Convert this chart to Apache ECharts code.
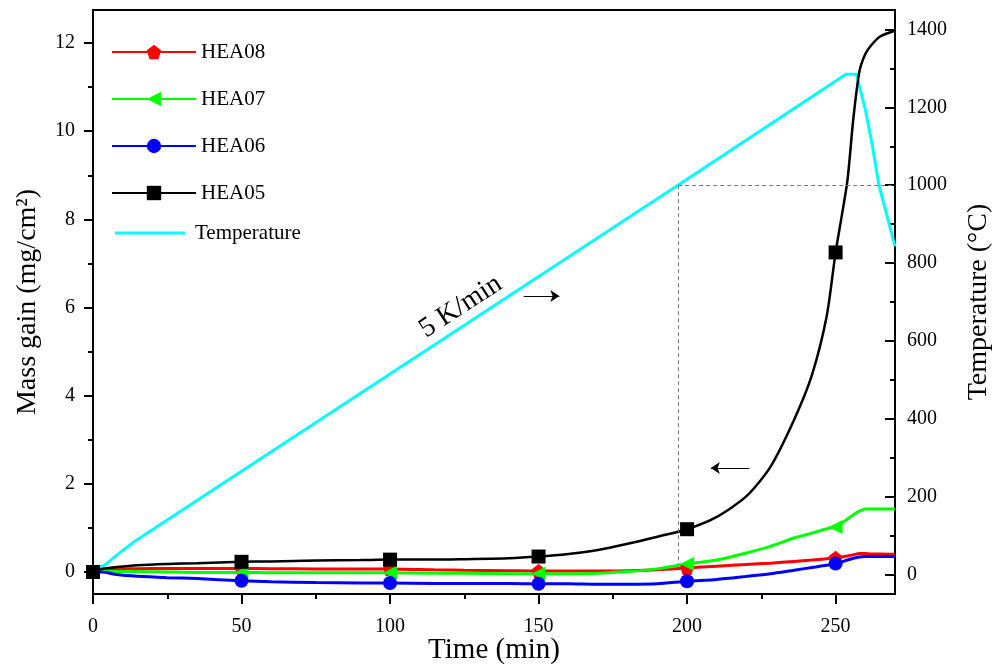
<!DOCTYPE html>
<html>
<head>
<meta charset="utf-8">
<script src="https://cdn.jsdelivr.net/npm/echarts@6/dist/echarts.min.js"></script>
<style>
  html, body { margin: 0; padding: 0; background: #fff; }
  #chart { width: 995px; height: 668px; }
</style>
</head>
<body>
<div id="chart"></div>
<script>
// Time axis shared by the four mass gain curves (min)
var massTime = [0, 3, 8, 15, 25, 35, 50, 60, 75, 90, 100, 115, 125, 140, 150, 160, 170, 180, 190, 200,
                210, 220, 228, 236, 242, 247, 250, 252, 254, 256, 258, 260, 262, 265, 270];

// Mass gain (mg/cm2)
var hea08 = [0, 0.04, 0.07, 0.075, 0.08, 0.08, 0.08, 0.075, 0.07, 0.07, 0.07, 0.05, 0.04, 0.03, 0.02, 0.02, 0.02, 0.03, 0.05, 0.09,
             0.13, 0.17, 0.2, 0.24, 0.27, 0.3, 0.32, 0.34, 0.36, 0.39, 0.42, 0.42, 0.41, 0.41, 0.4];
var hea07 = [0, 0.01, 0.01, 0.01, 0, -0.01, -0.01, -0.02, -0.02, -0.02, -0.02, -0.03, -0.03, -0.04, -0.04, -0.04, -0.03, 0.01, 0.07, 0.18,
             0.27, 0.43, 0.58, 0.77, 0.88, 0.98, 1.02, 1.1, 1.2, 1.3, 1.38, 1.43, 1.43, 1.43, 1.43];
var hea06 = [0, 0, -0.06, -0.1, -0.13, -0.15, -0.2, -0.22, -0.24, -0.25, -0.25, -0.26, -0.26, -0.26, -0.27, -0.27, -0.28, -0.28, -0.27, -0.21,
             -0.17, -0.1, -0.04, 0.04, 0.1, 0.15, 0.19, 0.23, 0.27, 0.31, 0.34, 0.35, 0.35, 0.35, 0.35];
var hea05 = [0, 0.07, 0.11, 0.15, 0.18, 0.2, 0.23, 0.24, 0.26, 0.27, 0.28, 0.28, 0.29, 0.31, 0.35, 0.41, 0.5, 0.64, 0.8, 0.97,
             1.25, 1.72, 2.38, 3.45, 4.46, 5.8, 7.25, 8.05, 8.89, 10.3, 11.35, 11.75, 11.95, 12.15, 12.28];

// Times where a marker is drawn
var markerTimes = [0, 50, 100, 150, 200, 250];

// Furnace temperature (deg C)
var tempTime = [0, 4, 8, 14, 20, 40, 100, 200, 253.5, 257, 260, 262.3, 264.6, 270];
var temperature = [13, 24, 50, 85, 115, 215, 515, 1015, 1285, 1285, 1195, 1105, 1000, 843];

// Tick values
var xLabels = [0, 50, 100, 150, 200, 250];
var xMinor = [25, 75, 125, 175, 225];
var massLabels = [0, 2, 4, 6, 8, 10, 12];
var massMinor = [1, 3, 5, 7, 9, 11];
var tempLabels = [0, 200, 400, 600, 800, 1000, 1200, 1400];
var tempMinor = [100, 300, 500, 700, 900, 1100, 1300];

var serif = "'Liberation Serif', 'Times New Roman', serif";
var pentagon = 'path://M50,0 L97.6,34.5 L79.4,90.5 L20.6,90.5 L2.4,34.5 Z';
var plainLine = 'path://M0,0 L100,0 L100,4 L0,4 Z';

var myChart = echarts.init(document.getElementById('chart'));

function buildData(values) {
    return massTime.map(function (t, i) {
        if (markerTimes.indexOf(t) >= 0) return [t, values[i]];
        return { value: [t, values[i]], symbol: 'none' };
    });
}

function massSeries(name, values, color, symbol, rotate) {
    return {
        name: name,
        type: 'line',
        xAxisIndex: 0,
        yAxisIndex: 0,
        data: buildData(values),
        smooth: 0.25,
        symbol: symbol,
        symbolSize: 14,
        symbolRotate: rotate || 0,
        showAllSymbol: true,
        lineStyle: { color: color, width: 3 },
        itemStyle: { color: color },
        animation: false
    };
}

var axisLineStyle = { show: true, onZero: false, lineStyle: { color: '#000', width: 2 } };
var plainNumber = function (v) { return String(v); };

function minorAxis(base, ticks, len, inside) {
    return Object.assign({}, base, {
        axisLine: { show: false, onZero: false },
        axisLabel: { show: false },
        axisTick: { show: true, inside: inside, length: len, customValues: ticks, lineStyle: { color: '#000', width: 2 } },
        name: ''
    });
}

var xBase = { type: 'value', min: 0, max: 270, position: 'bottom', splitLine: { show: false } };
var massBase = { type: 'value', min: -0.5, max: 12.75, position: 'left', splitLine: { show: false } };
var tempBase = { type: 'value', min: -50, max: 1450, position: 'right', splitLine: { show: false } };

var hea05Series = massSeries('HEA05', hea05, '#000000', 'rect', 0);
hea05Series.lineStyle.width = 2.5;
hea05Series.markLine = {
    silent: true,
    symbol: ['none', 'arrow'],
    symbolSize: 9,
    label: { show: false },
    lineStyle: { color: '#000', width: 1, type: 'solid' },
    data: [
        [{ coord: [145, 6.26] }, { coord: [157, 6.26] }],
        [{ coord: [221, 2.36] }, { coord: [208, 2.36] }]
    ]
};
hea05Series.markPoint = {
    silent: true,
    symbol: 'circle',
    symbolSize: 0,
    data: [{
        coord: [123.8, 6.02],
        label: {
            show: true, formatter: '5 K/min', rotate: 33, position: 'inside',
            fontFamily: serif, fontSize: 28, color: '#000'
        }
    }]
};

var option = {
    backgroundColor: '#fff',
    grid: {
        left: 93, right: 100, top: 10, bottom: 74,
        outerBoundsMode: 'none',
        containLabel: false,
        show: true, borderColor: '#000', borderWidth: 2
    },
    legend: [
        {
            data: ['HEA08', 'HEA07', 'HEA06', 'HEA05'],
            orient: 'vertical',
            left: 111, top: 40,
            padding: 0,
            itemWidth: 84, itemHeight: 18, itemGap: 23,
            textStyle: { fontFamily: serif, fontSize: 21, lineHeight: 24, color: '#000' }
        },
        {
            data: [{ name: 'Temperature', icon: plainLine }],
            orient: 'vertical',
            left: 115, top: 221,
            padding: 0,
            itemWidth: 70, itemHeight: 3,
            textStyle: { fontFamily: serif, fontSize: 21, lineHeight: 24, color: '#000', padding: [0, 0, 0, 5] }
        }
    ],
    xAxis: [
        Object.assign({}, xBase, {
            name: 'Time (min)',
            nameLocation: 'middle',
            nameGap: 42,
            nameMoveOverlap: false,
            nameTextStyle: { fontFamily: serif, fontSize: 29, color: '#000' },
            axisLine: axisLineStyle,
            axisTick: { show: true, length: 10, customValues: xLabels, lineStyle: { color: '#000', width: 2 } },
            axisLabel: { customValues: xLabels, margin: 23, fontFamily: serif, fontSize: 20, color: '#000', formatter: plainNumber }
        }),
        minorAxis(xBase, xMinor, 5, false)
    ],
    yAxis: [
        Object.assign({}, massBase, {
            name: 'Mass gain (mg/cm²)',
            nameLocation: 'middle',
            nameGap: 51,
            nameMoveOverlap: false,
            nameTextStyle: { fontFamily: serif, fontSize: 28, color: '#000' },
            axisLine: axisLineStyle,
            axisTick: { show: true, length: 9, customValues: massLabels, lineStyle: { color: '#000', width: 2 } },
            axisLabel: { customValues: massLabels, margin: 18, fontFamily: serif, fontSize: 20, color: '#000', formatter: plainNumber }
        }),
        minorAxis(massBase, massMinor, 5, false),
        Object.assign({}, tempBase, {
            name: 'Temperature (°C)',
            nameLocation: 'middle',
            nameGap: 70,
            nameMoveOverlap: false,
            nameTextStyle: { fontFamily: serif, fontSize: 28, color: '#000' },
            axisLine: axisLineStyle,
            axisTick: { show: true, inside: true, length: 10, customValues: tempLabels, lineStyle: { color: '#000', width: 2 } },
            axisLabel: { customValues: tempLabels, margin: 12, fontFamily: serif, fontSize: 20, color: '#000', formatter: plainNumber }
        }),
        minorAxis(tempBase, tempMinor, 5, true)
    ],
    series: [
        {
            name: 'Temperature',
            type: 'line',
            xAxisIndex: 0,
            yAxisIndex: 2,
            data: tempTime.map(function (t, i) { return [t, temperature[i]]; }),
            symbol: 'none',
            lineStyle: { color: '#00ffff', width: 3 },
            itemStyle: { color: '#00ffff' },
            animation: false,
            markLine: {
                silent: true,
                symbol: 'none',
                label: { show: false },
                lineStyle: { color: '#777', width: 1, type: [4, 3] },
                data: [
                    [{ coord: [197, 1000] }, { coord: [270, 1000] }],
                    [{ coord: [197, 1000] }, { coord: [197, 24] }]
                ]
            }
        },
        massSeries('HEA08', hea08, '#ff0000', pentagon, 0),
        massSeries('HEA07', hea07, '#00ff00', 'triangle', 90),
        massSeries('HEA06', hea06, '#0000ff', 'circle', 0),
        hea05Series
    ]
};

myChart.setOption(option);

window.onresize = function () {
    myChart.resize();
};
</script>
</body>
</html>
